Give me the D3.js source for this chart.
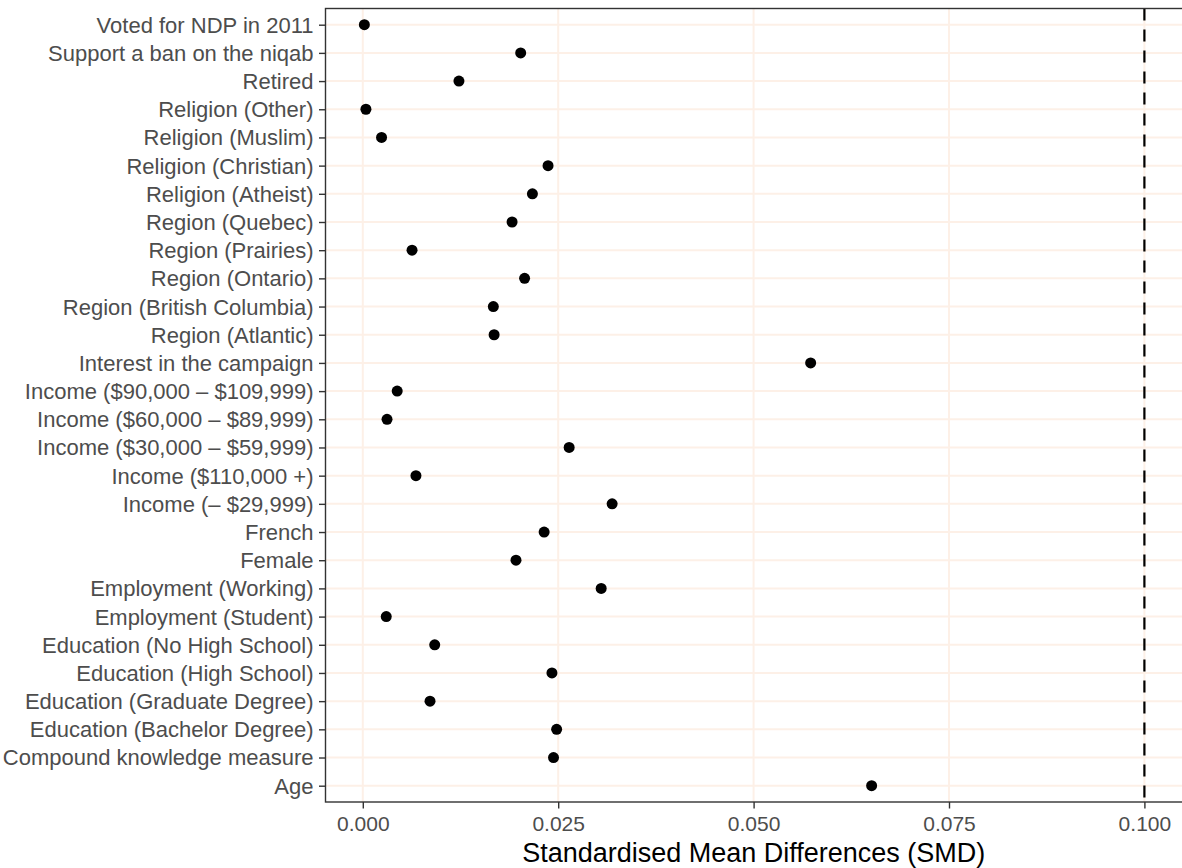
<!DOCTYPE html>
<html>
<head>
<meta charset="utf-8">
<script src="https://cdn.jsdelivr.net/npm/d3@7"></script>
<style>
  html, body { margin: 0; padding: 0; background: #ffffff; }
  svg { display: block; font-family: "Liberation Sans", Arial, Helvetica, sans-serif; }
</style>
</head>
<body>
<svg id="chart" width="1182" height="868"></svg>
<script>
// Categories, top to bottom
const categories = [
  "Voted for NDP in 2011",
  "Support a ban on the niqab",
  "Retired",
  "Religion (Other)",
  "Religion (Muslim)",
  "Religion (Christian)",
  "Religion (Atheist)",
  "Region (Quebec)",
  "Region (Prairies)",
  "Region (Ontario)",
  "Region (British Columbia)",
  "Region (Atlantic)",
  "Interest in the campaign",
  "Income ($90,000 \u2013 $109,999)",
  "Income ($60,000 \u2013 $89,999)",
  "Income ($30,000 \u2013 $59,999)",
  "Income ($110,000 +)",
  "Income (\u2013 $29,999)",
  "French",
  "Female",
  "Employment (Working)",
  "Employment (Student)",
  "Education (No High School)",
  "Education (High School)",
  "Education (Graduate Degree)",
  "Education (Bachelor Degree)",
  "Compound knowledge measure",
  "Age"
];
// Standardised mean differences, same order
const smd = [
  0.0002, 0.0202, 0.0123, 0.0004, 0.0024, 0.0237, 0.0217, 0.0191,
  0.0063, 0.0207, 0.0167, 0.0168, 0.0573, 0.0044, 0.0031, 0.0264,
  0.0068, 0.0319, 0.0232, 0.0196, 0.0305, 0.0030, 0.0092, 0.0242,
  0.0086, 0.0248, 0.0244, 0.0651
];
const xTicks = [0, 0.025, 0.05, 0.075, 0.1];
const threshold = [0.1];
const xTitle = "Standardised Mean Differences (SMD)";

const data = categories.map((c, i) => ({ label: c, value: smd[i] }));

const svg = d3.select("#chart");
const W = 1182, H = 868;
const panel = { left: 325.5, top: 8.5, right: 1190, bottom: 802 };
const FONT = "Liberation Sans, Arial, sans-serif";

const x = d3.scaleLinear().domain([0, 0.1]).range([362.8, 1144.4]);
const y = d3.scalePoint().domain(categories).range([24.7, 785.7]);

const g = svg.append("g");

// panel background
g.append("rect")
  .attr("x", panel.left).attr("y", panel.top)
  .attr("width", panel.right - panel.left).attr("height", panel.bottom - panel.top)
  .attr("fill", "#ffffff");

// grid lines
const gridColor = "#fdf0e7";
g.append("g").selectAll("line.hg").data(categories).join("line")
  .attr("x1", panel.left).attr("x2", panel.right)
  .attr("y1", d => y(d)).attr("y2", d => y(d))
  .attr("stroke", gridColor).attr("stroke-width", 2);
g.append("g").selectAll("line.vg").data(xTicks).join("line")
  .attr("x1", d => x(d)).attr("x2", d => x(d))
  .attr("y1", panel.top).attr("y2", panel.bottom)
  .attr("stroke", gridColor).attr("stroke-width", 2);

// threshold dashed line
g.append("g").selectAll("line.th").data(threshold).join("line")
  .attr("x1", d => x(d)).attr("x2", d => x(d))
  .attr("y1", panel.top).attr("y2", panel.bottom)
  .attr("stroke", "#000").attr("stroke-width", 2.2)
  .attr("stroke-dasharray", "12,9");

// points
g.append("g").selectAll("circle").data(data).join("circle")
  .attr("cx", d => x(d.value)).attr("cy", d => y(d.label))
  .attr("r", 5.5).attr("fill", "#000");

// panel border
g.append("rect")
  .attr("x", panel.left).attr("y", panel.top)
  .attr("width", panel.right - panel.left).attr("height", panel.bottom - panel.top)
  .attr("fill", "none").attr("stroke", "#333333").attr("stroke-width", 1.4);

// y axis
const yAxis = d3.axisLeft(y).tickSize(6.5).tickPadding(5.5);
const ya = svg.append("g").attr("transform", `translate(${panel.left},0)`).call(yAxis);
ya.select(".domain").remove();
ya.selectAll(".tick line").attr("stroke", "#333333").attr("stroke-width", 1.4);
ya.selectAll(".tick text").attr("fill", "#4d4d4d").attr("dy", "0.34em")
  .style("font-size", "22px").style("font-family", FONT);

// x axis
const xAxis = d3.axisBottom(x).tickValues(xTicks).tickFormat(d3.format(".3f")).tickSize(6.5).tickPadding(8);
const xa = svg.append("g").attr("transform", `translate(0,${panel.bottom})`).call(xAxis);
xa.select(".domain").remove();
xa.selectAll(".tick line").attr("stroke", "#333333").attr("stroke-width", 1.4);
xa.selectAll(".tick text").attr("fill", "#4d4d4d")
  .style("font-size", "21px").style("font-family", FONT);

// x title
svg.append("text")
  .attr("x", (panel.left + W) / 2).attr("y", 862)
  .attr("text-anchor", "middle")
  .attr("fill", "#000")
  .style("font-size", "27px").style("font-family", FONT)
  .text(xTitle);
</script>
</body>
</html>
